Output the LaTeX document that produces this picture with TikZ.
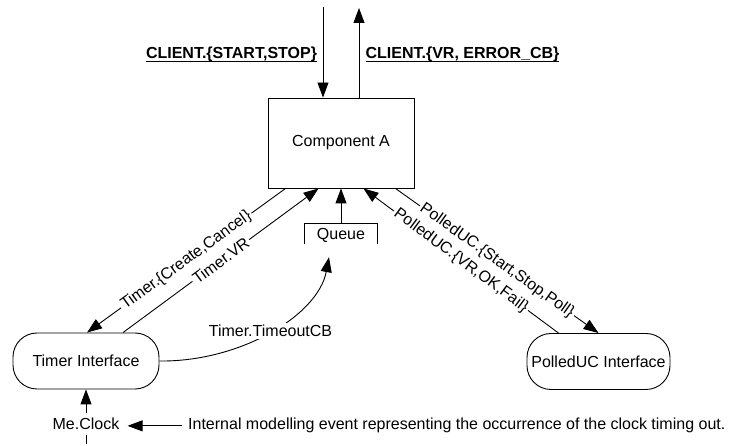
\documentclass[tikz,border=0pt]{standalone}
\usepackage{fontspec}
\setmainfont{Liberation Sans}
\usetikzlibrary{arrows.meta}

% underlined bold channel names
\newcommand{\ulabel}[1]{\setbox0\hbox{#1}\rlap{\rule[-3pt]{\wd0}{1.4pt}}\box0}

\begin{document}
\begin{tikzpicture}[x=1pt,y=-1pt,
  every node/.style={font=\fontsize{16}{19}\selectfont},
  wire/.style={line width=0.9pt},
  flow/.style={wire,-{Triangle[length=15pt,width=11pt]}},
  block/.style={draw,line width=0.9pt,minimum width=146pt,minimum height=90pt},
  iface/.style={draw,line width=0.9pt,rounded corners=24pt,minimum height=56pt,inner sep=2pt},
  tag/.style={sloped,fill=white,inner sep=2pt},
  chan/.style={font=\fontsize{16}{19}\selectfont\bfseries,anchor=base},
]
\useasboundingbox (0,0) rectangle (732,446);

% components
\node[block] (comp) at (341,143) {Component A};
\node[minimum width=73pt,minimum height=20pt,text height=12pt,text depth=0pt] (queue) at (341,234) {Queue};
\draw[wire] (queue.south west) |- (queue.north) -| (queue.south east);
\node[iface,minimum width=146pt] (timer) at (86,361) {Timer Interface};
\node[iface,minimum width=143pt] (polled) at (598.5,361.5) {PolledUC Interface};
\node[anchor=base,inner xsep=8pt,inner ysep=5pt] (clock) at (86,430) {Me.Clock};
\node[anchor=base west,inner xsep=6pt] (note) at (182,430) {Internal modelling event representing the occurrence of the clock timing out.};

% client channels
\node[chan] (startstop) at (231.5,59) {\ulabel{CLIENT.\{START,STOP\}}};
\node[chan] (vrerr) at (462.5,59) {\ulabel{CLIENT.\{VR, ERROR\_CB\}}};

\coordinate (inTop) at (323,7);
\coordinate (outTop) at (359,8);
\coordinate (clockEnd) at (86,446);

\draw[flow] (inTop) -- (inTop |- comp.north);
\draw[flow] (outTop |- comp.north) -- (outTop);

% internal flows
\draw[flow] (queue.north) -- (comp.south);
\draw[flow] ([xshift=18pt]comp.south west) -- node[tag]{Timer.\{Create,Cancel\}} ([xshift=1pt]timer.north);
\draw[flow] ([xshift=37pt]timer.north) -- node[tag]{Timer.VR} ([xshift=51pt]comp.south west);
\draw[flow] ([xshift=-19pt]comp.south east) -- node[tag]{PolledUC.\{Start,Stop,Poll\}} (polled.north);
\draw[flow] ([xshift=-40pt]polled.north) -- node[tag]{PolledUC.\{VR,OK,Fail\}} ([xshift=-51pt]comp.south east);
\draw[flow] (timer.east) .. controls +(81,1) and +(-11,58) .. ([xshift=-12pt,yshift=-13pt]queue.south)
  node[midway,fill=white,inner sep=2pt] {Timer.TimeoutCB};

% clock event
\draw[flow] (clock.north) -- (timer.south);
\draw[flow] (note.west) -- (note.west -| clock.east);
\draw[wire,dash pattern=on 9pt off 4pt] (clock.south) -- (clockEnd);
\end{tikzpicture}
\end{document}
